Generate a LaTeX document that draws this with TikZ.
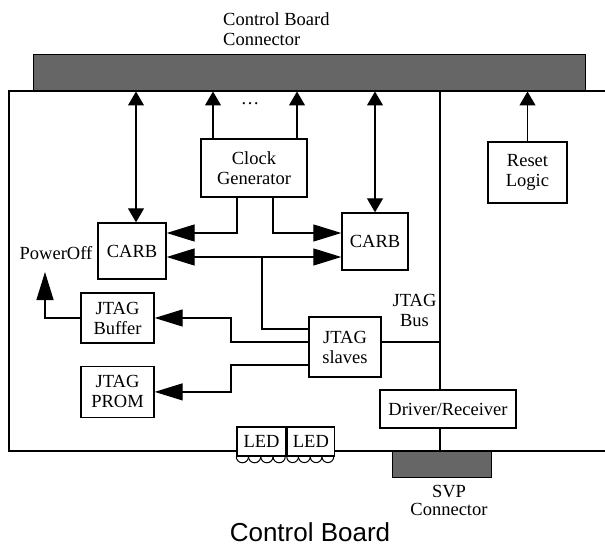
\documentclass[tikz,border=0pt]{standalone}
\usepackage{fontspec}
\setmainfont{Liberation Serif}
\newfontfamily\captionsans{Liberation Sans}
\usepackage{tikz}
\usetikzlibrary{
  arrows.meta,
  positioning
}
\newcommand{\blockfont}{\fontsize{18.5}{20}\selectfont}
\tikzset{
  unit/.style={
    draw,
    line width=1.4pt,
    fill=white,
    align=center,
    inner sep=0pt,
    font=\blockfont
  },
  plug/.style={
    draw=black,
    line width=1pt,
    fill=black!60
  },
  tag/.style={
    align=center,
    inner sep=0pt,
    font=\blockfont
  },
  wire/.style={
    line width=1.3pt
  },
  signal/.style={
    wire,
    -{Triangle[length=28pt,width=17pt]}
  },
  upsignal/.style={
    wire,
    -{Triangle[length=14pt,width=16pt]}
  },
  bothsignal/.style={
    wire,
    {Triangle[length=14pt,width=16pt]}-{Triangle[length=14pt,width=16pt]}
  },
  widebus/.style={
    wire,
    {Triangle[length=28pt,width=17pt]}-{Triangle[length=28pt,width=17pt]}
  }
}

\begin{document}
\begin{tikzpicture}[x=1pt,y=-1pt]

  \useasboundingbox (0,0) rectangle (605,548);

  % board outline (right edge runs off the page)
  \draw[line width=1.5pt] (605,91) -- (9,91) -- (9,451) -- (605,451);

  \node[
    plug,
    inner sep=0pt,
    minimum width=552pt,
    minimum height=36pt
  ] (cbconn) at (309,73) {};

  \node[
    tag,
    anchor=north west,
    align=left
  ] (cbtitle) at (223,12) {
    Control Board\\
    Connector
  };

  \node[
    unit,
    minimum width=106pt,
    minimum height=58pt
  ] (clock) at (254,168) {
    Clock\\
    Generator
  };

  \node[
    unit,
    minimum width=79pt,
    minimum height=61pt
  ] (reset) at (527.5,172.5) {
    Reset\\
    Logic
  };

  \node[
    unit,
    minimum width=68pt,
    minimum height=56pt
  ] (carbA) at (132,251) {CARB};

  \node[
    unit,
    minimum width=66pt,
    minimum height=57pt
  ] (carbB) at (375,241.5) {CARB};

  \node[
    unit,
    minimum width=73pt,
    minimum height=50pt
  ] (buffer) at (117.5,318) {
    JTAG\\
    Buffer
  };

  \node[
    unit,
    minimum width=73pt,
    minimum height=51pt,
    below=22pt of buffer
  ] (prom) {
    JTAG\\
    PROM
  };

  \node[
    unit,
    minimum width=72pt,
    minimum height=60pt
  ] (slaves) at (345,347) {
    JTAG\\
    slaves
  };

  \node[
    unit,
    minimum width=136pt,
    minimum height=38pt
  ] (driver) at (448,409) {Driver/Receiver};

  \node[
    plug,
    inner sep=0pt,
    minimum width=99pt,
    minimum height=26pt
  ] (svp) at (441.5,464) {};

  \node[
    unit,
    minimum width=49pt,
    minimum height=29pt
  ] (ledA) at (261.5,441.5) {LED};

  \node[
    unit,
    minimum width=47pt,
    minimum height=29pt,
    right=0pt of ledA
  ] (ledB) {LED};

  \foreach \k in {0,...,3} {
    \draw[line width=1pt] ([xshift=\k*12.25pt]ledA.south west)
      arc[start angle=180, end angle=360, radius=6.1pt];
    \draw[line width=1pt] ([xshift=\k*11.75pt]ledB.south west)
      arc[start angle=180, end angle=360, radius=5.9pt];
  }

  \node[tag] (poweroff) at (56,253) {PowerOff};
  \node[tag] (busname) at (414.5,310) {JTAG\\Bus};
  \node[tag, font=\fontsize{18.5}{18}\selectfont] (svpname) at (449,500) {
    SVP\\
    Connector
  };
  \node[tag] (dots) at (250,104) {\dots};

  \node[
    font=\captionsans\fontsize{26}{30}\selectfont,
    inner sep=0pt
  ] (boardname) at (310,532) {Control Board};

  \coordinate (tapA) at (136,0);
  \coordinate (clkL) at (213,0);
  \coordinate (clkR) at (297,0);
  \coordinate (bendL) at (231,0);
  \coordinate (bustop) at (440,91);
  \coordinate (bustap) at (440,342);
  \coordinate (junction) at (262,257);
  \coordinate (poweroffend) at (45,272);

  % to the control board connector
  \draw[bothsignal] (tapA |- cbconn.south) -- (tapA |- carbA.north);
  \draw[bothsignal] (carbB.north |- cbconn.south) -- (carbB.north);
  \draw[upsignal] (clkL |- clock.north) -- (clkL |- cbconn.south);
  \draw[upsignal] (clkR |- clock.north) -- (clkR |- cbconn.south);
  \draw[upsignal] (reset.north) -- (reset.north |- cbconn.south);

  % clock lines
  \draw[signal] ([xshift=-17pt]clock.south) |- ([yshift=18pt]carbA.east);
  \draw[signal] ([xshift=19pt]clock.south) |- ([yshift=8.5pt]carbB.west);

  % JTAG chain
  \draw[widebus] ([yshift=-6pt]carbA.east) -- ([yshift=-15.5pt]carbB.west);
  \draw[wire] (junction) |- ([yshift=18pt]slaves.west);
  \draw[signal] ([yshift=5pt]slaves.west) -| (bendL |- buffer.east) -- (buffer.east);
  \draw[signal] ([yshift=-18pt]slaves.west) -| (bendL |- prom.east) -- (prom.east);
  \draw[signal] (buffer.west) -| (poweroffend);
  \draw[wire] ([yshift=5pt]slaves.east) -- (bustap);

  % JTAG bus
  \draw[wire] (bustop) -- (bustop |- driver.north);
  \draw[wire] (bustop |- driver.south) -- (bustop |- svp.north);

\end{tikzpicture}
\end{document}
